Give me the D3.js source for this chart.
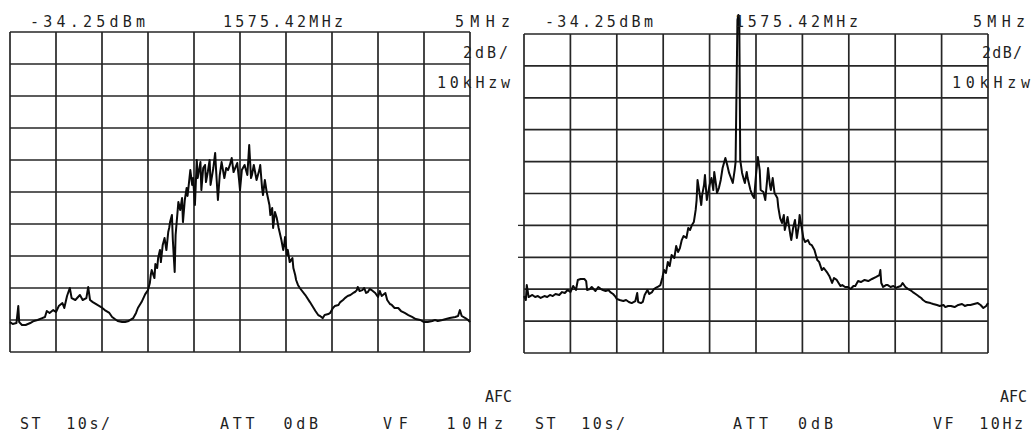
<!DOCTYPE html>
<html><head><meta charset="utf-8">
<script src="https://cdn.jsdelivr.net/npm/d3@7"></script>
<style>body{margin:0;background:#fff}svg{display:block}text{white-space:pre}</style>
</head><body>
<svg id="chart" width="1035" height="433"></svg>
<script>
// ---- instrument settings ----
const refLevelDbm = -34.25;
const dbPerDiv = 2;
const nDivY = 10;
const spanMHz = 5;
const nDivX = 10;
const topLabels = ["-34.25dBm", "1575.42MHz", "5MHz"];
const sideLabels = ["2dB/", "10kHzw"];
const bottomLabels = ["ST  10s/", "ATT  0dB", "VF  10Hz"];
const afcLabel = "AFC";

// ---- trace 1 (left screen): frequency offset from 1575.42 MHz [MHz], level [dBm] ----
const leftFreq = [-2.50,-2.47,-2.43,-2.41,-2.40,-2.37,-2.33,-2.28,-2.24,-2.20,-2.15,-2.12,-2.10,-2.07,-2.03,-2.00,-1.97,-1.93,-1.91,-1.88,-1.85,-1.83,-1.79,-1.76,-1.74,-1.71,-1.67,-1.65,-1.63,-1.60,-1.55,-1.51,-1.47,-1.42,-1.39,-1.36,-1.33,-1.28,-1.25,-1.21,-1.16,-1.13,-1.11,-1.07,-1.03,-1.00,-0.98,-0.97,-0.96,-0.93,-0.92,-0.90,-0.89,-0.87,-0.86,-0.84,-0.82,-0.80,-0.78,-0.77,-0.76,-0.74,-0.73,-0.71,-0.70,-0.67,-0.65,-0.63,-0.62,-0.60,-0.58,-0.57,-0.54,-0.52,-0.51,-0.49,-0.47,-0.46,-0.43,-0.42,-0.40,-0.38,-0.37,-0.35,-0.33,-0.32,-0.29,-0.27,-0.26,-0.24,-0.22,-0.20,-0.17,-0.15,-0.13,-0.11,-0.09,-0.07,-0.03,-0.01,0.00,0.02,0.05,0.08,0.10,0.12,0.13,0.15,0.18,0.21,0.22,0.24,0.25,0.27,0.29,0.32,0.33,0.35,0.36,0.38,0.40,0.42,0.43,0.45,0.47,0.48,0.49,0.51,0.52,0.54,0.57,0.58,0.60,0.61,0.63,0.65,0.71,0.76,0.82,0.85,0.87,0.90,0.92,0.96,0.98,1.01,1.03,1.07,1.09,1.12,1.14,1.17,1.20,1.23,1.25,1.27,1.28,1.30,1.33,1.35,1.37,1.39,1.41,1.43,1.47,1.50,1.52,1.54,1.58,1.60,1.63,1.65,1.68,1.72,1.75,1.79,1.83,1.87,1.91,1.96,2.00,2.04,2.09,2.12,2.15,2.20,2.24,2.28,2.34,2.37,2.39,2.41,2.45,2.48,2.50];
const leftLevel = [-52.38,-52.50,-52.44,-51.38,-52.38,-52.56,-52.56,-52.44,-52.31,-52.25,-52.13,-52.06,-51.69,-51.81,-51.63,-51.75,-51.38,-51.19,-51.50,-50.75,-50.25,-50.88,-51.00,-50.81,-50.69,-51.00,-50.88,-50.19,-51.00,-51.13,-51.31,-51.44,-51.63,-51.81,-52.06,-52.19,-52.31,-52.38,-52.38,-52.31,-52.13,-51.81,-51.50,-51.13,-50.63,-50.38,-49.94,-49.44,-49.13,-49.63,-48.75,-49.00,-48.38,-47.88,-48.63,-47.56,-47.13,-47.88,-46.75,-46.50,-46.13,-45.69,-47.25,-49.25,-46.94,-44.88,-45.38,-44.63,-46.13,-44.75,-44.00,-44.50,-42.88,-43.81,-43.38,-45.06,-42.25,-43.38,-42.38,-44.13,-42.75,-42.56,-43.63,-43.00,-42.25,-43.81,-42.75,-41.81,-42.88,-44.75,-43.19,-42.38,-43.38,-42.75,-42.88,-42.56,-42.13,-43.00,-42.44,-43.50,-44.13,-42.88,-42.56,-43.19,-41.31,-43.38,-43.19,-42.56,-43.50,-42.88,-42.56,-44.00,-44.44,-43.50,-44.25,-45.06,-45.69,-45.25,-46.50,-45.50,-45.88,-46.50,-46.75,-47.25,-47.88,-47.56,-47.06,-48.19,-47.88,-48.63,-48.38,-49.00,-49.44,-49.75,-50.06,-50.25,-50.69,-51.13,-51.69,-51.94,-52.00,-52.13,-51.94,-51.88,-51.81,-51.50,-51.38,-51.31,-51.13,-51.00,-50.88,-50.75,-50.69,-50.56,-50.50,-50.38,-50.19,-50.44,-50.38,-50.25,-50.56,-50.50,-50.31,-50.38,-50.56,-50.81,-50.44,-50.75,-50.56,-51.00,-51.25,-51.31,-51.50,-51.50,-51.69,-51.81,-51.94,-52.06,-52.19,-52.25,-52.38,-52.38,-52.31,-52.25,-52.31,-52.25,-52.19,-52.13,-52.06,-52.00,-51.63,-52.00,-52.13,-52.25,-52.38];

// ---- trace 2 (right screen) ----
const rightFreq = [-2.50,-2.48,-2.47,-2.45,-2.41,-2.38,-2.35,-2.32,-2.28,-2.25,-2.22,-2.19,-2.16,-2.12,-2.09,-2.06,-2.03,-2.00,-1.97,-1.94,-1.92,-1.89,-1.85,-1.83,-1.82,-1.79,-1.77,-1.73,-1.70,-1.67,-1.65,-1.62,-1.59,-1.57,-1.54,-1.52,-1.50,-1.47,-1.43,-1.40,-1.37,-1.34,-1.30,-1.28,-1.27,-1.24,-1.22,-1.20,-1.17,-1.15,-1.12,-1.10,-1.08,-1.06,-1.03,-1.01,-0.99,-0.97,-0.95,-0.93,-0.91,-0.88,-0.86,-0.84,-0.82,-0.80,-0.78,-0.75,-0.73,-0.71,-0.69,-0.67,-0.65,-0.64,-0.63,-0.61,-0.59,-0.58,-0.56,-0.55,-0.53,-0.52,-0.50,-0.48,-0.46,-0.45,-0.43,-0.42,-0.40,-0.38,-0.36,-0.33,-0.31,-0.29,-0.27,-0.25,-0.23,-0.22,-0.20,-0.19,-0.18,-0.17,-0.15,-0.13,-0.12,-0.10,-0.09,-0.06,-0.04,-0.02,0.00,0.02,0.04,0.05,0.08,0.10,0.12,0.13,0.15,0.16,0.18,0.20,0.23,0.24,0.26,0.28,0.30,0.31,0.33,0.34,0.37,0.38,0.40,0.42,0.44,0.46,0.47,0.50,0.51,0.53,0.56,0.58,0.60,0.63,0.66,0.68,0.71,0.73,0.77,0.79,0.82,0.84,0.87,0.91,0.93,0.96,0.99,1.02,1.05,1.07,1.10,1.13,1.17,1.21,1.25,1.29,1.33,1.34,1.35,1.37,1.40,1.42,1.45,1.48,1.51,1.53,1.56,1.58,1.61,1.64,1.66,1.69,1.72,1.75,1.78,1.80,1.83,1.88,1.91,1.95,1.98,2.02,2.04,2.07,2.10,2.14,2.18,2.22,2.25,2.28,2.31,2.35,2.39,2.42,2.45,2.48,2.50];
const rightLevel = [-50.68,-50.93,-49.99,-50.74,-50.61,-50.74,-50.68,-50.80,-50.68,-50.74,-50.61,-50.68,-50.55,-50.61,-50.43,-50.49,-50.30,-50.43,-50.05,-50.30,-49.67,-49.61,-49.61,-49.74,-50.30,-50.24,-50.11,-50.36,-50.11,-50.24,-50.30,-50.36,-50.30,-50.43,-50.55,-50.68,-50.86,-50.93,-50.99,-50.93,-51.05,-51.12,-50.99,-50.49,-51.05,-51.12,-51.05,-50.61,-50.30,-50.55,-50.43,-50.24,-50.17,-50.11,-49.99,-49.55,-49.05,-49.23,-48.54,-48.80,-48.11,-48.29,-47.54,-47.92,-47.67,-47.17,-46.91,-47.04,-46.41,-46.54,-46.22,-46.04,-45.28,-44.66,-43.40,-44.16,-44.97,-44.34,-43.72,-43.09,-44.66,-44.34,-43.72,-43.28,-44.03,-42.90,-43.72,-44.22,-43.91,-43.40,-42.65,-42.02,-42.46,-42.96,-43.28,-43.59,-42.78,-42.28,-33.37,-33.06,-33.37,-42.15,-42.96,-43.40,-43.59,-42.90,-43.28,-44.03,-44.34,-44.53,-43.09,-41.96,-42.78,-44.03,-44.16,-44.66,-43.40,-42.65,-43.72,-44.03,-43.28,-44.22,-44.53,-45.10,-45.79,-46.10,-45.60,-46.54,-46.04,-45.72,-46.85,-47.17,-46.41,-45.91,-47.04,-46.29,-45.60,-46.66,-47.04,-47.29,-47.17,-47.42,-47.48,-47.79,-48.42,-48.54,-49.05,-48.92,-49.23,-49.42,-49.86,-49.55,-49.67,-50.05,-49.99,-50.11,-50.11,-50.24,-50.05,-50.05,-49.74,-49.80,-49.67,-49.74,-49.61,-49.49,-49.36,-49.05,-49.86,-50.11,-49.99,-49.99,-50.11,-50.05,-50.17,-50.11,-50.05,-49.86,-50.11,-50.24,-50.30,-50.43,-50.55,-50.68,-50.80,-50.93,-51.05,-51.12,-51.18,-51.24,-51.30,-51.24,-51.37,-51.30,-51.30,-51.37,-51.24,-51.18,-51.30,-51.24,-51.24,-51.18,-51.12,-51.24,-51.43,-51.30,-51.12];

// ---- layout (pixels) ----
const panels = [
  { freq: leftFreq, level: leftLevel, x0: 10, x1: 470, y0: 32, y1: 352,
    top: [[30,27,115],[223,27,120],[455,27,55]],
    side: [[463,58,45],[437,88,73]],
    afc: [485,402,27],
    bottom: [[20,429,90],[220,429,98],[383,429,120]],
    stubs: [] },
  { freq: rightFreq, level: rightLevel, x0: 524, x1: 988, y0: 34, y1: 353,
    top: [[545,27,108],[735,27,123],[973,27,52]],
    side: [[982,58,40],[952,88,78]],
    afc: [1000,402,27],
    bottom: [[535,429,90],[733,429,100],[933,429,90]],
    stubs: [6, 7] }
];

const svg = d3.select("#chart");
const ink = "#1f1f1f";

panels.forEach(p => {
  const x = d3.scaleLinear().domain([-spanMHz/2, spanMHz/2]).range([p.x0, p.x1]);
  const y = d3.scaleLinear().domain([refLevelDbm - dbPerDiv*nDivY, refLevelDbm]).range([p.y1, p.y0]);
  const g = svg.append("g");

  const xTicks = d3.range(nDivX + 1).map(i => -spanMHz/2 + i*spanMHz/nDivX);
  const yTicks = d3.range(nDivY + 1).map(i => refLevelDbm - i*dbPerDiv);

  g.append("g").selectAll("line").data(xTicks).join("line")
    .attr("x1", d => x(d)).attr("x2", d => x(d))
    .attr("y1", p.y0).attr("y2", p.y1)
    .attr("stroke", "#262626").attr("stroke-width", 1.7);
  g.append("g").selectAll("line").data(yTicks).join("line")
    .attr("y1", d => y(d)).attr("y2", d => y(d))
    .attr("x1", p.x0).attr("x2", p.x1)
    .attr("stroke", "#262626").attr("stroke-width", 1.7);
  // small stubs left of graticule
  g.append("g").selectAll("line").data(p.stubs).join("line")
    .attr("y1", i => y(refLevelDbm - i*dbPerDiv)).attr("y2", i => y(refLevelDbm - i*dbPerDiv))
    .attr("x1", p.x0 - 6).attr("x2", p.x0)
    .attr("stroke", "#262626").attr("stroke-width", 1.3);

  const n = Math.min(p.freq.length, p.level.length);
  const pts = d3.range(n).map(i => [p.freq[i], p.level[i]]);
  const line = d3.line().x(d => x(d[0])).y(d => y(d[1]));
  g.append("path").datum(pts).attr("d", line)
    .attr("fill", "none").attr("stroke", "#0a0a0a").attr("stroke-width", 2)
    .attr("stroke-linejoin", "round");

  const txt = (s, a) => g.append("text").text(s)
    .attr("x", a[0]).attr("y", a[1])
    .attr("textLength", a[2]).attr("lengthAdjust", "spacing")
    .attr("font-family", "DejaVu Sans Mono, monospace")
    .attr("font-size", 15).attr("fill", ink);
  topLabels.forEach((s, i) => txt(s, p.top[i]));
  sideLabels.forEach((s, i) => txt(s, p.side[i]));
  txt(afcLabel, p.afc);
  bottomLabels.forEach((s, i) => txt(s, p.bottom[i]));
});
</script>
</body></html>
